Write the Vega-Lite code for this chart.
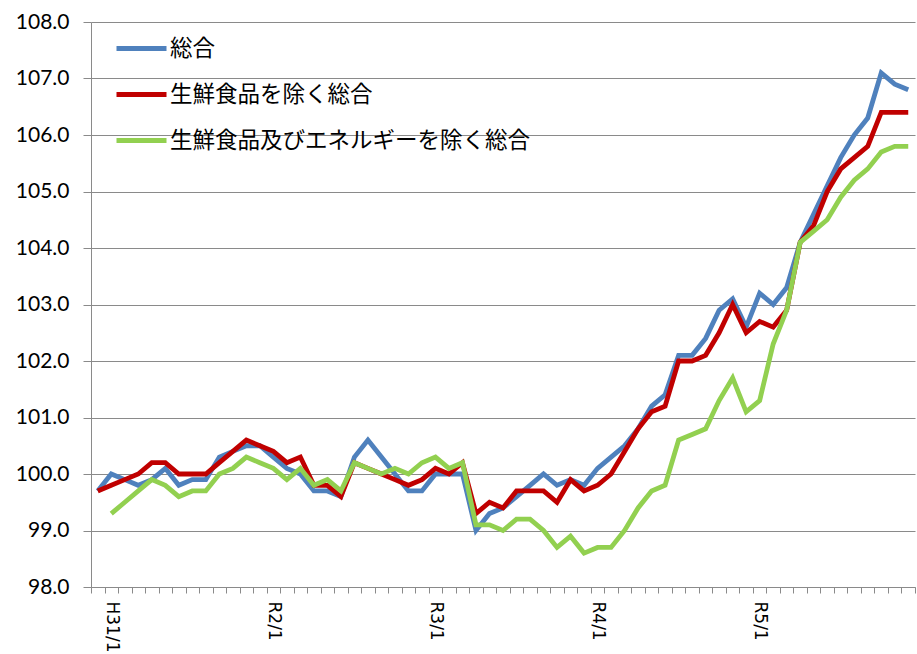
{
  "$schema": "https://vega.github.io/schema/vega-lite/v6.json",
  "width": 824,
  "height": 565,
  "autosize": {"type": "none"},
  "padding": {"left": 91, "top": 22, "right": 2, "bottom": 67},
  "background": "white",
  "config": {
    "view": {"stroke": null},
    "axis": {"domainColor": "#8a8a8a", "tickColor": "#8a8a8a", "gridColor": "#8a8a8a", "labelColor": "#000000", "title": null}
  },
  "data": {
    "values": [
      {"m": "H30/12", "総合": 99.7, "生鮮食品を除く総合": 99.7, "生鮮食品及びエネルギーを除く総合": null},
      {"m": "H31/1", "総合": 100.0, "生鮮食品を除く総合": 99.8, "生鮮食品及びエネルギーを除く総合": 99.3},
      {"m": "H31/2", "総合": 99.9, "生鮮食品を除く総合": 99.9, "生鮮食品及びエネルギーを除く総合": 99.5},
      {"m": "H31/3", "総合": 99.8, "生鮮食品を除く総合": 100.0, "生鮮食品及びエネルギーを除く総合": 99.7},
      {"m": "H31/4", "総合": 99.9, "生鮮食品を除く総合": 100.2, "生鮮食品及びエネルギーを除く総合": 99.9},
      {"m": "R1/5", "総合": 100.1, "生鮮食品を除く総合": 100.2, "生鮮食品及びエネルギーを除く総合": 99.8},
      {"m": "R1/6", "総合": 99.8, "生鮮食品を除く総合": 100.0, "生鮮食品及びエネルギーを除く総合": 99.6},
      {"m": "R1/7", "総合": 99.9, "生鮮食品を除く総合": 100.0, "生鮮食品及びエネルギーを除く総合": 99.7},
      {"m": "R1/8", "総合": 99.9, "生鮮食品を除く総合": 100.0, "生鮮食品及びエネルギーを除く総合": 99.7},
      {"m": "R1/9", "総合": 100.3, "生鮮食品を除く総合": 100.2, "生鮮食品及びエネルギーを除く総合": 100.0},
      {"m": "R1/10", "総合": 100.4, "生鮮食品を除く総合": 100.4, "生鮮食品及びエネルギーを除く総合": 100.1},
      {"m": "R1/11", "総合": 100.5, "生鮮食品を除く総合": 100.6, "生鮮食品及びエネルギーを除く総合": 100.3},
      {"m": "R1/12", "総合": 100.5, "生鮮食品を除く総合": 100.5, "生鮮食品及びエネルギーを除く総合": 100.2},
      {"m": "R2/1", "総合": 100.3, "生鮮食品を除く総合": 100.4, "生鮮食品及びエネルギーを除く総合": 100.1},
      {"m": "R2/2", "総合": 100.1, "生鮮食品を除く総合": 100.2, "生鮮食品及びエネルギーを除く総合": 99.9},
      {"m": "R2/3", "総合": 100.0, "生鮮食品を除く総合": 100.3, "生鮮食品及びエネルギーを除く総合": 100.1},
      {"m": "R2/4", "総合": 99.7, "生鮮食品を除く総合": 99.8, "生鮮食品及びエネルギーを除く総合": 99.8},
      {"m": "R2/5", "総合": 99.7, "生鮮食品を除く総合": 99.8, "生鮮食品及びエネルギーを除く総合": 99.9},
      {"m": "R2/6", "総合": 99.6, "生鮮食品を除く総合": 99.6, "生鮮食品及びエネルギーを除く総合": 99.7},
      {"m": "R2/7", "総合": 100.3, "生鮮食品を除く総合": 100.2, "生鮮食品及びエネルギーを除く総合": 100.2},
      {"m": "R2/8", "総合": 100.6, "生鮮食品を除く総合": 100.1, "生鮮食品及びエネルギーを除く総合": 100.1},
      {"m": "R2/9", "総合": 100.3, "生鮮食品を除く総合": 100.0, "生鮮食品及びエネルギーを除く総合": 100.0},
      {"m": "R2/10", "総合": 100.0, "生鮮食品を除く総合": 99.9, "生鮮食品及びエネルギーを除く総合": 100.1},
      {"m": "R2/11", "総合": 99.7, "生鮮食品を除く総合": 99.8, "生鮮食品及びエネルギーを除く総合": 100.0},
      {"m": "R2/12", "総合": 99.7, "生鮮食品を除く総合": 99.9, "生鮮食品及びエネルギーを除く総合": 100.2},
      {"m": "R3/1", "総合": 100.0, "生鮮食品を除く総合": 100.1, "生鮮食品及びエネルギーを除く総合": 100.3},
      {"m": "R3/2", "総合": 100.0, "生鮮食品を除く総合": 100.0, "生鮮食品及びエネルギーを除く総合": 100.1},
      {"m": "R3/3", "総合": 100.0, "生鮮食品を除く総合": 100.2, "生鮮食品及びエネルギーを除く総合": 100.2},
      {"m": "R3/4", "総合": 99.0, "生鮮食品を除く総合": 99.3, "生鮮食品及びエネルギーを除く総合": 99.1},
      {"m": "R3/5", "総合": 99.3, "生鮮食品を除く総合": 99.5, "生鮮食品及びエネルギーを除く総合": 99.1},
      {"m": "R3/6", "総合": 99.4, "生鮮食品を除く総合": 99.4, "生鮮食品及びエネルギーを除く総合": 99.0},
      {"m": "R3/7", "総合": 99.6, "生鮮食品を除く総合": 99.7, "生鮮食品及びエネルギーを除く総合": 99.2},
      {"m": "R3/8", "総合": 99.8, "生鮮食品を除く総合": 99.7, "生鮮食品及びエネルギーを除く総合": 99.2},
      {"m": "R3/9", "総合": 100.0, "生鮮食品を除く総合": 99.7, "生鮮食品及びエネルギーを除く総合": 99.0},
      {"m": "R3/10", "総合": 99.8, "生鮮食品を除く総合": 99.5, "生鮮食品及びエネルギーを除く総合": 98.7},
      {"m": "R3/11", "総合": 99.9, "生鮮食品を除く総合": 99.9, "生鮮食品及びエネルギーを除く総合": 98.9},
      {"m": "R3/12", "総合": 99.8, "生鮮食品を除く総合": 99.7, "生鮮食品及びエネルギーを除く総合": 98.6},
      {"m": "R4/1", "総合": 100.1, "生鮮食品を除く総合": 99.8, "生鮮食品及びエネルギーを除く総合": 98.7},
      {"m": "R4/2", "総合": 100.3, "生鮮食品を除く総合": 100.0, "生鮮食品及びエネルギーを除く総合": 98.7},
      {"m": "R4/3", "総合": 100.5, "生鮮食品を除く総合": 100.4, "生鮮食品及びエネルギーを除く総合": 99.0},
      {"m": "R4/4", "総合": 100.8, "生鮮食品を除く総合": 100.8, "生鮮食品及びエネルギーを除く総合": 99.4},
      {"m": "R4/5", "総合": 101.2, "生鮮食品を除く総合": 101.1, "生鮮食品及びエネルギーを除く総合": 99.7},
      {"m": "R4/6", "総合": 101.4, "生鮮食品を除く総合": 101.2, "生鮮食品及びエネルギーを除く総合": 99.8},
      {"m": "R4/7", "総合": 102.1, "生鮮食品を除く総合": 102.0, "生鮮食品及びエネルギーを除く総合": 100.6},
      {"m": "R4/8", "総合": 102.1, "生鮮食品を除く総合": 102.0, "生鮮食品及びエネルギーを除く総合": 100.7},
      {"m": "R4/9", "総合": 102.4, "生鮮食品を除く総合": 102.1, "生鮮食品及びエネルギーを除く総合": 100.8},
      {"m": "R4/10", "総合": 102.9, "生鮮食品を除く総合": 102.5, "生鮮食品及びエネルギーを除く総合": 101.3},
      {"m": "R4/11", "総合": 103.1, "生鮮食品を除く総合": 103.0, "生鮮食品及びエネルギーを除く総合": 101.7},
      {"m": "R4/12", "総合": 102.6, "生鮮食品を除く総合": 102.5, "生鮮食品及びエネルギーを除く総合": 101.1},
      {"m": "R5/1", "総合": 103.2, "生鮮食品を除く総合": 102.7, "生鮮食品及びエネルギーを除く総合": 101.3},
      {"m": "R5/2", "総合": 103.0, "生鮮食品を除く総合": 102.6, "生鮮食品及びエネルギーを除く総合": 102.3},
      {"m": "R5/3", "総合": 103.3, "生鮮食品を除く総合": 102.9, "生鮮食品及びエネルギーを除く総合": 102.9},
      {"m": "R5/4", "総合": 104.1, "生鮮食品を除く総合": 104.1, "生鮮食品及びエネルギーを除く総合": 104.1},
      {"m": "R5/5", "総合": 104.6, "生鮮食品を除く総合": 104.4, "生鮮食品及びエネルギーを除く総合": 104.3},
      {"m": "R5/6", "総合": 105.1, "生鮮食品を除く総合": 105.0, "生鮮食品及びエネルギーを除く総合": 104.5},
      {"m": "R5/7", "総合": 105.6, "生鮮食品を除く総合": 105.4, "生鮮食品及びエネルギーを除く総合": 104.9},
      {"m": "R5/8", "総合": 106.0, "生鮮食品を除く総合": 105.6, "生鮮食品及びエネルギーを除く総合": 105.2},
      {"m": "R5/9", "総合": 106.3, "生鮮食品を除く総合": 105.8, "生鮮食品及びエネルギーを除く総合": 105.4},
      {"m": "R5/10", "総合": 107.1, "生鮮食品を除く総合": 106.4, "生鮮食品及びエネルギーを除く総合": 105.7},
      {"m": "R5/11", "総合": 106.9, "生鮮食品を除く総合": 106.4, "生鮮食品及びエネルギーを除く総合": 105.8},
      {"m": "R5/12", "総合": 106.8, "生鮮食品を除く総合": 106.4, "生鮮食品及びエネルギーを除く総合": 105.8}
    ]
  },
  "transform": [
    {"fold": ["総合", "生鮮食品を除く総合", "生鮮食品及びエネルギーを除く総合"], "as": ["series", "value"]},
    {"filter": "datum.value != null"}
  ],
  "mark": {"type": "line", "strokeWidth": 4.8, "strokeJoin": "miter", "strokeCap": "butt"},
  "encoding": {
    "x": {
      "field": "m",
      "type": "ordinal",
      "sort": null,
      "scale": {"paddingInner": 0, "paddingOuter": 0},
      "axis": {
        "labelExpr": "split(datum.label, '/')[1] == '1' ? datum.label : ''",
        "labelAngle": 90,
        "labelFont": "DejaVu Sans",
        "labelFontSize": 17,
        "labelPadding": 8,
        "tickBand": "extent",
        "tickSize": 6,
        "labelOverlap": false,
        "grid": false
      }
    },
    "y": {
      "field": "value",
      "type": "quantitative",
      "scale": {"domain": [98, 108], "nice": false, "zero": false},
      "axis": {
        "values": [98, 99, 100, 101, 102, 103, 104, 105, 106, 107, 108],
        "format": ".1f",
        "labelFont": "Lato",
        "labelFontSize": 21,
        "labelPadding": 14,
        "tickSize": 8,
        "grid": true,
        "gridWidth": 1.2
      }
    },
    "color": {
      "field": "series",
      "type": "nominal",
      "scale": {
        "domain": ["総合", "生鮮食品を除く総合", "生鮮食品及びエネルギーを除く総合"],
        "range": ["#4F81BD", "#C00000", "#92D050"]
      },
      "legend": {
        "title": null,
        "orient": "none",
        "legendX": 23,
        "legendY": -1,
        "padding": 0,
        "symbolType": "stroke",
        "symbolSize": 2500,
        "symbolStrokeWidth": 5,
        "labelFont": "Noto Sans CJK JP",
        "labelFontSize": 22.5,
        "labelColor": "#000000",
        "labelOffset": 1,
        "rowPadding": 7,
        "labelLimit": 500
      }
    }
  }
}
